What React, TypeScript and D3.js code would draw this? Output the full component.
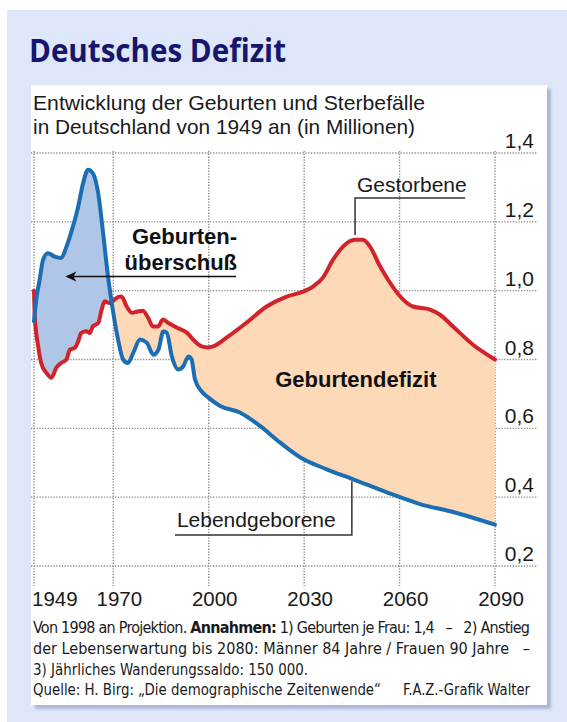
import * as d3 from 'd3'

// Jahre / Werte in Millionen
const deathYears = [1949, 1949.2, 1950.1, 1950.9, 1952.3, 1953.6, 1954.9, 1956.2, 1957.6, 1958.5, 1959.8, 1960.7, 1961.5, 1962.9, 1963.8, 1964.6, 1966, 1966.8, 1967.7, 1969, 1970.4, 1971.6, 1972.6, 1974.2, 1975.8, 1977.4, 1979.3, 1980.9, 1982.5, 1984.1, 1985.6, 1987.2, 1989.9, 1993.1, 1995.7, 1997.8, 1999.8, 2001.4, 2005.7, 2011.9, 2018.2, 2024.5, 2029.7, 2032.8, 2035.9, 2039.1, 2042.2, 2046, 2048.5, 2050.7, 2053.9, 2057, 2060.2, 2064.2, 2069.6, 2072.7, 2076.8, 2083.1, 2090]
const deathValues = [1.0, 0.926, 0.839, 0.79, 0.761, 0.747, 0.776, 0.79, 0.8, 0.829, 0.834, 0.853, 0.877, 0.882, 0.877, 0.897, 0.906, 0.94, 0.969, 0.964, 0.974, 0.982, 0.983, 0.954, 0.936, 0.939, 0.942, 0.922, 0.896, 0.896, 0.916, 0.907, 0.893, 0.878, 0.852, 0.838, 0.835, 0.838, 0.864, 0.907, 0.954, 0.983, 0.997, 1.012, 1.038, 1.09, 1.128, 1.148, 1.148, 1.128, 1.07, 1.023, 0.983, 0.954, 0.945, 0.93, 0.896, 0.843, 0.8]

const birthYears = [1949, 1949.6, 1950.5, 1951.4, 1952.7, 1954.5, 1956.2, 1957.6, 1959.3, 1960.7, 1962, 1963.3, 1964.6, 1966, 1967.3, 1968.6, 1970, 1971.5, 1973.1, 1974.6, 1976.3, 1978.4, 1980.5, 1982.6, 1984.2, 1985.7, 1986.8, 1988.4, 1990.4, 1992, 1993.6, 1994.6, 1995.7, 1997.8, 1999.8, 2003.6, 2009.8, 2016.1, 2022.4, 2028.7, 2037.1, 2045.4, 2056, 2066.4, 2076.8, 2090]
const birthValues = [0.911, 0.974, 1.032, 1.09, 1.109, 1.099, 1.095, 1.128, 1.186, 1.244, 1.312, 1.351, 1.341, 1.283, 1.167, 1.041, 0.935, 0.858, 0.8, 0.79, 0.82, 0.858, 0.849, 0.814, 0.829, 0.881, 0.878, 0.809, 0.771, 0.78, 0.809, 0.8, 0.742, 0.707, 0.69, 0.665, 0.646, 0.607, 0.559, 0.516, 0.481, 0.452, 0.414, 0.38, 0.357, 0.32]

const yearTicks = [1949, 1970, 2000, 2030, 2060, 2090]
const valueTicks = [0.2, 0.4, 0.6, 0.8, 1.0, 1.2, 1.4]

const SANS = "'Liberation Sans', Arial, Helvetica, sans-serif"
const NARROW = "'Liberation Sans Narrow', 'Arial Narrow', 'DejaVu Sans Condensed', sans-serif"
const RED = '#d2232a'
const BLUE = '#1b6db4'
const GRID = '#8a8a8a'
const NB = '\u00a0'

type Pt = { yr: number; v: number }

export default function App() {
  const x = d3.scaleLinear().domain([1949, 1970, 2090]).range([34, 113.3, 495])
  const y = d3.scaleLinear().domain([0.2, 1.4]).range([566, 153])

  const deaths: Pt[] = deathYears.map((yr, i) => ({ yr, v: deathValues[i] }))
  const births: Pt[] = birthYears.map((yr, i) => ({ yr, v: birthValues[i] }))

  const line = d3.line<Pt>().x(d => x(d.yr)).y(d => y(d.v)).curve(d3.curveMonotoneX)
  const toTop = d3.area<Pt>().x(d => x(d.yr)).y0(0).y1(d => y(d.v)).curve(d3.curveMonotoneX)
  const toBottom = d3.area<Pt>().x(d => x(d.yr)).y0(700).y1(d => y(d.v)).curve(d3.curveMonotoneX)

  const fmt = (v: number) => v.toFixed(1).replace('.', ',')

  return (
    <div style={{ position: 'absolute', left: 0, top: 0 }}>
      <svg width={567} height={722} style={{ display: 'block' }}>
        <defs>
          <clipPath id="aboveRed"><path d={toTop(deaths) ?? ''} /></clipPath>
          <clipPath id="aboveBlue"><path d={toTop(births) ?? ''} /></clipPath>
          <filter id="soft" x="-5%" y="-5%" width="110%" height="110%">
            <feGaussianBlur stdDeviation="1.5" />
          </filter>
        </defs>

        <rect x={0} y={0} width={567} height={722} fill="#fff" />
        <rect x={7} y={10} width={560} height={712} fill="#dde7f9" />

        <text x={29} y={62} fontFamily="'Open Sans', 'Noto Sans', sans-serif" fontWeight={700}
          fontSize={33} fill="#16166c" textLength={257} lengthAdjust="spacingAndGlyphs">Deutsches Defizit</text>

        <rect x={35} y={89} width={516} height={620} fill="#a9b6d6" filter="url(#soft)" />
        <rect x={31} y={85} width={516} height={620} fill="#fff" />

        <g fontFamily={SANS} fill="#1a1a1a" fontSize={21}>
          <text x={33} y={110} textLength={392} lengthAdjust="spacingAndGlyphs">Entwicklung der Geburten und Sterbefälle</text>
          <text x={33} y={134} textLength={382} lengthAdjust="spacingAndGlyphs">in Deutschland von 1949 an (in Millionen)</text>
        </g>

        {/* Raster */}
        <g stroke={GRID} strokeWidth={1.4} strokeDasharray="1.3 1.5" fill="none">
          {valueTicks.map(t => (
            <line key={t} x1={31} x2={538} y1={y(t)} y2={y(t)} />
          ))}
          {yearTicks.map(t => (
            <line key={t} x1={x(t)} x2={x(t)} y1={y(1.4) - 2} y2={586} />
          ))}
        </g>

        {/* Flächen */}
        <path d={toBottom(births) ?? ''} fill="#b0c6e6" clipPath="url(#aboveRed)" />
        <path d={toBottom(deaths) ?? ''} fill="#fdd9b8" clipPath="url(#aboveBlue)" />

        <path d={line(deaths) ?? ''} fill="none" stroke={RED} strokeWidth={4} strokeLinecap="round" strokeLinejoin="round" />
        <path d={line(births) ?? ''} fill="none" stroke={BLUE} strokeWidth={4} strokeLinecap="round" strokeLinejoin="round" />

        {/* Achsenbeschriftung */}
        <g fontFamily={SANS} fill="#1a1a1a" fontSize={21}>
          {valueTicks.map(t => (
            <text key={t} x={534} y={y(t) - 5} textAnchor="end">{fmt(t)}</text>
          ))}
          {yearTicks.map((t, i) => (
            <text key={t} x={i === 0 ? x(t) - 2 : x(t) + 6} y={606} fontSize={20.5}
              textAnchor={i === 0 ? 'start' : 'middle'}>{t}</text>
          ))}
        </g>

        {/* Anmerkungen */}
        <g fontFamily={SANS} fill="#111" fontWeight={700} fontSize={22}>
          <text x={x(2008.9)} y={y(1.136)} textAnchor="end">Geburten-</text>
          <text x={x(2008.9)} y={y(1.061)} textAnchor="end">überschuß</text>
          <text x={x(2020.9)} y={y(0.719)}>Geburtendefizit</text>
        </g>
        <line x1={x(2008.6)} x2={x(1957.8)} y1={y(1.041)} y2={y(1.041)} stroke="#111" strokeWidth={1.5} />
        <path d={`M${x(1957.3)},${y(1.041)} l11,-5 l-3,5 l3,5 z`} fill="#111" />

        <g fontFamily={SANS} fill="#1a1a1a" fontSize={21}>
          <text x={x(2046.6)} y={y(1.288)}>Gestorbene</text>
          <text x={x(1990)} y={y(0.313)}>Lebendgeborene</text>
        </g>
        <path d={`M${x(2080.6)},${y(1.269)} H${x(2046)} V${y(1.162)}`} fill="none" stroke="#333" strokeWidth={1.5} />
        <path d={`M${x(1989.4)},${y(0.29)} H${x(2045)} V${y(0.446)}`} fill="none" stroke="#333" strokeWidth={1.5} />

        {/* Fußnote */}
        <g fontFamily={NARROW} fill="#1a1a1a" fontSize={16}>
          <text x={33} y={633} textLength={497} lengthAdjust="spacing">
            {'Von 1998 an Projektion. '}<tspan fontWeight={700}>Annahmen:</tspan>{` 1) Geburten je Frau: 1,4${NB}${NB} –${NB}${NB} 2) Anstieg`}
          </text>
          <text x={33} y={654} textLength={497} lengthAdjust="spacing">
            {`der Lebenserwartung bis 2080: Männer 84 Jahre${NB}/${NB}Frauen 90 Jahre${NB}${NB} –`}
          </text>
          <text x={33} y={675} textLength={275} lengthAdjust="spacingAndGlyphs">
            3) Jährliches Wanderungssaldo: 150 000.
          </text>
          <text x={33} y={695} textLength={348} lengthAdjust="spacingAndGlyphs">
            Quelle: H. Birg: „Die demographische Zeitenwende“
          </text>
          <text x={403} y={695} textLength={127} lengthAdjust="spacingAndGlyphs">F.A.Z.-Grafik Walter</text>
        </g>
      </svg>
    </div>
  )
}
